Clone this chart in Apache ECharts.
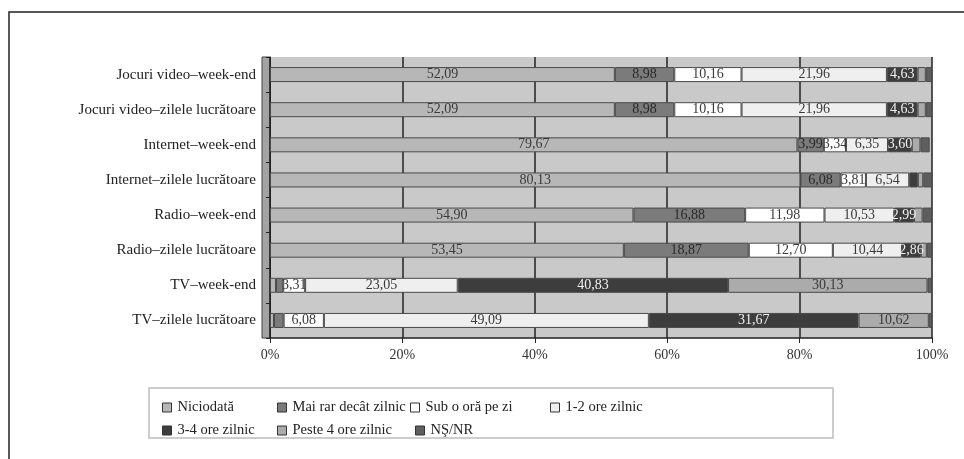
<!DOCTYPE html>
<html>
<head>
<meta charset="utf-8">
<script src="https://cdn.jsdelivr.net/npm/echarts@6/dist/echarts.min.js"></script>
<style>
html,body{margin:0;padding:0;background:#fff;}
#chart{width:964px;height:459px;}
</style>
</head>
<body>
<div id="chart"></div>
<script>
// Categories bottom -> top
var categories = [
  "TV–zilele lucrătoare",
  "TV–week-end",
  "Radio–zilele lucrătoare",
  "Radio–week-end",
  "Internet–zilele lucrătoare",
  "Internet–week-end",
  "Jocuri video–zilele lucrătoare",
  "Jocuri video–week-end"
];
var seriesNames = ["Niciodată", "Mai rar decât zilnic", "Sub o oră pe zi", "1-2 ore zilnic", "3-4 ore zilnic", "Peste 4 ore zilnic", "NŞ/NR"];
var niciodata   = [0.60, 0.90, 53.45, 54.90, 80.13, 79.67, 52.09, 52.09];
var maiRar      = [1.46, 1.10, 18.87, 16.88, 6.08, 3.99, 8.98, 8.98];
var subOOra     = [6.08, 3.31, 12.70, 11.98, 3.81, 3.34, 10.16, 10.16];
var ore12       = [49.09, 23.05, 10.44, 10.53, 6.54, 6.35, 21.96, 21.96];
var ore34       = [31.67, 40.83, 2.86, 2.99, 1.30, 3.60, 4.63, 4.63];
var peste4      = [10.62, 30.13, 0.90, 1.30, 0.82, 1.30, 1.25, 1.25];
var nsnr        = [0.48, 0.68, 0.78, 1.42, 1.32, 1.40, 0.93, 0.93];
var tickLabels  = ["0%", "20%", "40%", "60%", "80%", "100%"];

var seriesData = [niciodata, maiRar, subOOra, ore12, ore34, peste4, nsnr];
var colors = ["#b7b7b7", "#7b7b7b", "#ffffff", "#efefef", "#3d3d3d", "#ababab", "#5e5e5e"];
var labelColors = ["#3a3a3a", "#2a2a2a", "#3a3a3a", "#3a3a3a", "#f0f0f0", "#3a3a3a", "#f0f0f0"];
var FONT = "Liberation Serif";

var chart = echarts.init(document.getElementById('chart'), null, {renderer: 'canvas'});

var series = seriesNames.map(function (name, i) {
  return {
    name: name,
    type: 'bar',
    stack: 'total',
    barWidth: 15,
    data: seriesData[i],
    itemStyle: {color: colors[i], borderColor: '#4a4a4a', borderWidth: 1},
    label: {
      show: true,
      position: 'inside',
      fontFamily: FONT,
      fontSize: 14,
      color: labelColors[i],
      formatter: function (p) {
        return p.value >= 1.5 ? p.value.toFixed(2).replace('.', ',') : '';
      }
    },
    emphasis: {disabled: true}
  };
});

var legendPos = [
  [157, 395], [272, 395], [405, 395], [545, 395],
  [157, 418], [272, 418], [410, 418]
];
var legends = seriesNames.map(function (name, i) {
  return {
    data: [name],
    left: legendPos[i][0],
    top: legendPos[i][1],
    icon: 'rect',
    itemWidth: 9,
    itemHeight: 9,
    itemGap: 0,
    selectedMode: false,
    itemStyle: {borderColor: '#333', borderWidth: 1},
    textStyle: {fontFamily: FONT, fontSize: 14.5, color: '#222', padding: [0, 0, 0, 1]}
  };
});

var option = {
  animation: false,
  backgroundColor: '#ffffff',
  color: colors,
  grid: {left: 270, right: 32, top: 57, bottom: 121, show: true, backgroundColor: '#c9c9c9', borderWidth: 0},
  legend: legends,
  xAxis: {
    type: 'value',
    min: 0,
    max: 100,
    interval: 20,
    axisLine: {show: true, lineStyle: {color: '#222', width: 1.5}},
    axisTick: {show: true, length: 5, lineStyle: {color: '#222'}},
    splitLine: {show: true, lineStyle: {color: '#222', width: 1.5}},
    axisLabel: {
      fontFamily: FONT, fontSize: 14, color: '#333', margin: 10,
      formatter: function (v) { return tickLabels[Math.round(v / 20)]; }
    }
  },
  yAxis: {
    type: 'category',
    data: categories,
    offset: 8,
    axisLine: {show: true, lineStyle: {color: '#222', width: 1}},
    axisTick: {show: true, length: 4, lineStyle: {color: '#222'}},
    axisLabel: {fontFamily: FONT, fontSize: 15, color: '#222', margin: 6}
  },
  graphic: [
    {type: 'rect', shape: {x: 9, y: 12, width: 1200, height: 800}, style: {fill: 'none', stroke: '#222', lineWidth: 1.5}, silent: true},
    {type: 'rect', shape: {x: 262, y: 57, width: 8, height: 281}, style: {fill: '#a3a3a3', stroke: '#444', lineWidth: 1}, silent: true, z: -1},
    {type: 'rect', shape: {x: 149, y: 388, width: 684, height: 50}, style: {fill: 'none', stroke: '#bdbdbd', lineWidth: 1.5}, silent: true}
  ],
  series: series
};
chart.setOption(option);
</script>
</body>
</html>
